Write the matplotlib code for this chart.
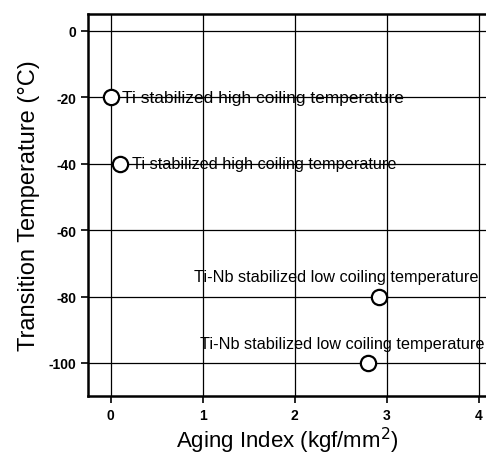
import matplotlib
matplotlib.use("Agg")
import matplotlib.pyplot as plt

# data
aging_index = [0.0, 0.1, 2.92, 2.8]
transition_temp = [-20, -40, -80, -100]
labels = ["Ti stabilized high coiling temperature",
          "Ti stabilized high coiling temperature",
          "Ti-Nb stabilized low coiling temperature",
          "Ti-Nb stabilized low coiling temperature"]
x_ticks = [0, 1, 2, 3, 4]
y_ticks = [0, -20, -40, -60, -80, -100]

plt.rcParams['font.family'] = ['Liberation Sans', 'DejaVu Sans']
plt.rcParams['axes.unicode_minus'] = False

fig = plt.figure(figsize=(4.86, 4.56), dpi=100)
ax = fig.add_axes([0.181, 0.129, 0.819, 0.838])

ax.set_xlim(-0.245, 4.08)
ax.set_ylim(-110, 5.1)
ax.set_xticks(x_ticks)
ax.set_yticks(y_ticks)
ax.grid(True, color='black', linewidth=0.9)
ax.set_axisbelow(True)

ax.plot(aging_index, transition_temp, 'o', markersize=11, markerfacecolor='white',
        markeredgecolor='black', markeredgewidth=1.6, linestyle='none', zorder=3)

# annotations: Ti labels to the right of the point, Ti-Nb labels above and to the left
sizes = [12.5, 11.7, 11.7, 11.7]
for i, (x, y, t) in enumerate(zip(aging_index, transition_temp, labels)):
    if t.startswith("Ti-Nb"):
        right = [4.0, 4.065][i - 2]
        ax.text(right, y + 6, t, ha='right', va='center', fontsize=sizes[i], zorder=4)
    else:
        ax.text(x + 0.13, y, t, ha='left', va='center', fontsize=sizes[i], zorder=4)

for s in ['left', 'top', 'bottom']:
    ax.spines[s].set_linewidth(1.8)
ax.spines['right'].set_visible(False)

ax.tick_params(direction='out', length=5, width=1.2, labelsize=10)
for lab in ax.get_xticklabels() + ax.get_yticklabels():
    lab.set_fontweight('bold')

ax.set_xlabel("Aging Index (kgf/mm$^2$)", fontsize=16, labelpad=2)
ax.set_ylabel("Transition Temperature (°C)", fontsize=17, labelpad=6)

fig.savefig("out.png", dpi=100)
